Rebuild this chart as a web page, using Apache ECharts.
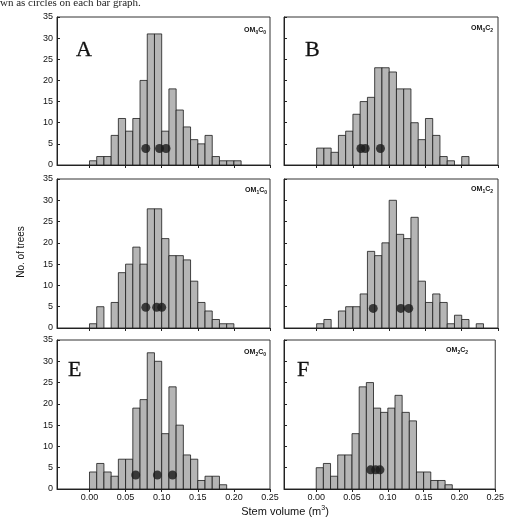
<!DOCTYPE html>
<html>
  <head>
    <meta charset="utf-8" />
    <title>Stem volume histograms</title>
    <script src="https://cdn.jsdelivr.net/npm/echarts@6.0.0/dist/echarts.min.js"></script>
    <style>
      body { margin: 0; background: #fff; }
      #main { width: 507px; height: 520px; }
    </style>
  </head>
  <body>
    <div id="main"></div>
    <script type="text/javascript">
// histogram counts, one bar per 0.01 m3 bin starting at 0.00
var countsA = [1, 2, 2, 7, 11, 8, 11, 20, 31, 31, 8, 18, 13, 9, 6, 5, 7, 2, 1, 1, 1];
var countsB = [4, 4, 3, 7, 8, 12, 15, 16, 23, 23, 22, 18, 18, 10, 6, 11, 7, 2, 1, 0, 2];
var countsC = [1, 5, 0, 6, 13, 15, 19, 15, 28, 28, 21, 17, 17, 16, 11, 6, 4, 2, 1, 1];
var countsD = [1, 2, 0, 4, 5, 5, 8, 18, 17, 20, 30, 22, 21, 26, 11, 6, 8, 6, 1, 3, 2, 0, 1];
var countsE = [4, 6, 4, 3, 7, 7, 19, 21, 32, 30, 13, 24, 15, 8, 7, 2, 3, 3, 1];
var countsF = [5, 6, 3, 8, 8, 13, 24, 25, 19, 18, 19, 22, 18, 16, 4, 4, 2, 2, 1];

// circles drawn on each graph (x = stem volume, y = height of the marker)
var circlesXA = [0.078, 0.097, 0.106];
var circlesXB = [0.061, 0.067, 0.088];
var circlesXC = [0.078, 0.093, 0.100];
var circlesXD = [0.078, 0.116, 0.127];
var circlesXE = [0.064, 0.094, 0.115];
var circlesXF = [0.076, 0.083, 0.089];
var circlesY = [3.9, 3.9, 4.85, 4.6, 3.3, 4.5];

var panelLetters = ['A', 'B', '', '', 'E', 'F'];
var treatments = [['0', '0'], ['0', '2'], ['1', '0'], ['1', '2'], ['2', '0'], ['2', '2']];
var xTicks = [0, 0.05, 0.10, 0.15, 0.20, 0.25];
var binStart = 0;
var binWidth = 0.01;

var allCounts = [countsA, countsB, countsC, countsD, countsE, countsF];
var allCirclesX = [circlesXA, circlesXB, circlesXC, circlesXD, circlesXE, circlesXF];

var chartDom = document.getElementById('main');
var myChart = echarts.init(chartDom, null, { renderer: 'canvas' });

// panel boxes
var colLeft = [57, 284];
var colWidth = [213, 214];
var rowTop = [17, 179, 340];
var rowHeight = [148, 149, 149];

var grids = [], xAxes = [], yAxes = [], series = [], graphics = [];

function renderBar(params, api) {
  var n = api.value(1);
  if (!n) return null;
  var x0 = api.value(0);
  var p0 = api.coord([x0, n]);
  var p1 = api.coord([x0 + binWidth, 0]);
  return {
    type: 'rect',
    shape: { x: p0[0], y: p0[1], width: p1[0] - p0[0], height: p1[1] - p0[1] },
    style: { fill: '#b5b5b5', stroke: '#1a1a1a', lineWidth: 0.8 }
  };
}

for (var i = 0; i < 6; i++) {
  var col = i % 2, row = Math.floor(i / 2);
  grids.push({
    left: colLeft[col], top: rowTop[row],
    width: colWidth[col], height: rowHeight[row],
    show: true, borderColor: '#333', borderWidth: 1
  });
  xAxes.push({
    type: 'value', gridIndex: i, min: -0.045, max: 0.25,
    axisLine: { show: true, onZero: false, lineStyle: { color: '#222', width: 1 } },
    axisTick: { show: true, customValues: xTicks, length: 3, lineStyle: { color: '#222' } },
    axisLabel: {
      show: row === 2, customValues: xTicks, margin: 4,
      fontFamily: 'Arial, Liberation Sans, sans-serif', fontSize: 9, color: '#111',
      formatter: function (v) { return v.toFixed(2); }
    },
    splitLine: { show: false }
  });
  yAxes.push({
    type: 'value', gridIndex: i, min: 0, max: 35, interval: 5,
    axisLine: { show: true, onZero: false, lineStyle: { color: '#222', width: 1 } },
    axisTick: { show: true, inside: true, length: 3, lineStyle: { color: '#222' } },
    axisLabel: {
      show: col === 0, margin: 4,
      fontFamily: 'Arial, Liberation Sans, sans-serif', fontSize: 9, color: '#111'
    },
    splitLine: { show: false }
  });
  series.push({
    type: 'custom', xAxisIndex: i, yAxisIndex: i,
    renderItem: renderBar,
    data: allCounts[i].map(function (c, k) { return [binStart + k * binWidth, c]; }),
    z: 2
  });
  series.push({
    type: 'scatter', xAxisIndex: i, yAxisIndex: i,
    symbol: 'circle', symbolSize: 9,
    itemStyle: { color: '#1a1a1a' },
    data: allCirclesX[i].map(function (x) { return [x, circlesY[i]]; }),
    z: 3
  });
}

// panel letters
var letterPos = [[76, 50], [305, 50], null, null, [68, 370], [297, 370]];
for (var j = 0; j < 6; j++) {
  if (panelLetters[j]) {
    graphics.push({
      type: 'text', x: letterPos[j][0], y: letterPos[j][1],
      style: {
        text: panelLetters[j], font: '22px "Liberation Serif", "DejaVu Serif", serif',
        fill: '#111', stroke: '#111', lineWidth: 0.3, textVerticalAlign: 'middle'
      }
    });
  }
}

// treatment labels (OM_x C_y)
var omPos = [[266, 30], [493, 28], [267, 190], [493, 189], [266, 352], [468, 350]];
for (var m = 0; m < 6; m++) {
  graphics.push({
    type: 'text', x: omPos[m][0], y: omPos[m][1],
    style: {
      text: '{b|OM}{s|' + treatments[m][0] + '}{b|C}{s|' + treatments[m][1] + '}',
      align: 'right', verticalAlign: 'middle',
      rich: {
        b: { fontFamily: 'Arial, Liberation Sans, sans-serif', fontWeight: 'bold', fontSize: 7, fill: '#111', lineHeight: 10, verticalAlign: 'middle' },
        s: { fontFamily: 'Arial, Liberation Sans, sans-serif', fontWeight: 'bold', fontSize: 5, fill: '#111', lineHeight: 10, verticalAlign: 'bottom' }
      }
    }
  });
}

// caption fragment, axis titles
graphics.push({
  type: 'text', x: 0, y: 9,
  style: {
    text: 'wn as circles on each bar graph.',
    font: '11px "Liberation Serif", "DejaVu Serif", serif', fill: '#222',
    textVerticalAlign: 'bottom'
  }
});
graphics.push({
  type: 'text', x: 21, y: 252, rotation: Math.PI / 2,
  style: {
    text: 'No. of trees', font: '10px Arial, "Liberation Sans", sans-serif', fill: '#111',
    align: 'center', verticalAlign: 'middle'
  }
});
graphics.push({
  type: 'text', x: 285, y: 512,
  style: {
    text: 'Stem volume (m{sup|3})',
    align: 'center', verticalAlign: 'middle',
    fontFamily: 'Arial, Liberation Sans, sans-serif', fontSize: 11, fill: '#111',
    rich: {
      sup: { fontFamily: 'Arial, Liberation Sans, sans-serif', fontSize: 7, fill: '#111', verticalAlign: 'top', lineHeight: 14 }
    }
  }
});

var option = {
  animation: false,
  backgroundColor: '#fff',
  grid: grids,
  xAxis: xAxes,
  yAxis: yAxes,
  series: series,
  graphic: { elements: graphics }
};

myChart.setOption(option);
    </script>
  </body>
</html>
